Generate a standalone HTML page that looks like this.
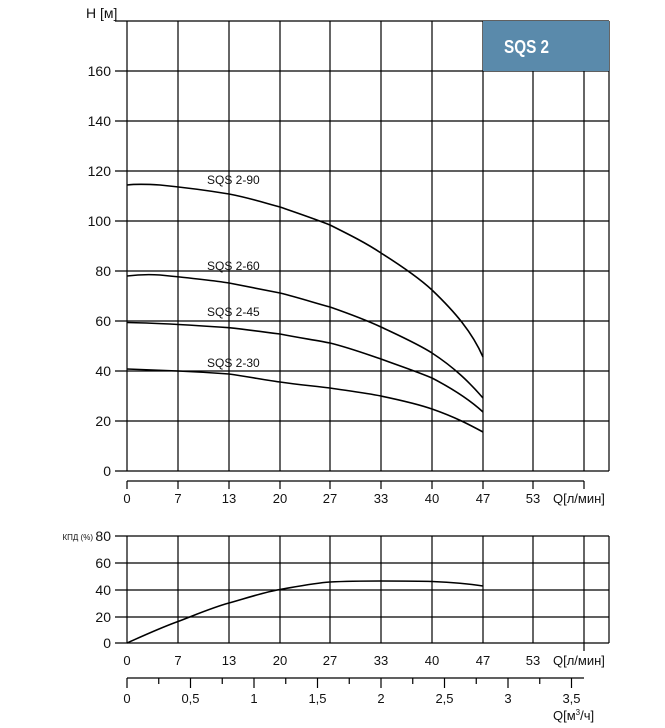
<!DOCTYPE html>
<html><head><meta charset="utf-8"><style>
html,body{margin:0;padding:0;background:#fff;}
svg text{font-family:"Liberation Sans",Arial,sans-serif;fill:#111;}
</style></head><body>
<svg width="665" height="723" viewBox="0 0 665 723" xmlns="http://www.w3.org/2000/svg">
<g stroke="#000" stroke-width="1.2" fill="none">
<path d="M127 21V471M178 21V471M229 21V471M280 21V471M330 21V471M381 21V471M432 21V471M483 21V471M533 21V471M584 21V471M609 21V471"/>
<path d="M115 21H609M115 71H609M115 121H609M115 171H609M115 221H609M115 271H609M115 321H609M115 371H609M115 421H609M115 471H609"/>
<path d="M127 481H584M127 481v8M178 481v8M229 481v8M280 481v8M330 481v8M381 481v8M432 481v8M483 481v8M533 481v8M584 481v8"/>
<path d="M127 536V643M178 536V643M229 536V643M280 536V643M330 536V643M381 536V643M432 536V643M483 536V643M533 536V643M584 536V643M609 536V643"/>
<path d="M115 536H609M115 563H609M115 590H609M115 617H609M115 643H609"/>
<path d="M584 643v8"/>
<path d="M127 678H584M127 678v10M190.5 678v10M254 678v10M317.5 678v10M381 678v10M444.5 678v10M508 678v10M571.5 678v10M158.75 678v6M222.25 678v6M285.75 678v6M349.25 678v6M412.75 678v6M476.25 678v6M539.75 678v6"/>
</g>
<rect x="483" y="21" width="126" height="50" fill="#5a8aab"/>
<text x="0" y="0" font-size="18" font-weight="bold" style="fill:#fff" transform="translate(504,53) scale(0.85,1.05)">SQS 2</text>
<g stroke="#000" stroke-width="1.6" fill="none">
<path d="M127 185 C135 184 145 184 160 185 C180 187 205 190 229 194 C250 198 265 203 280 207 C300 214 315 219 330 225 C350 235 366 243 381 253 C400 265 418 277 432 290 C455 312 472 332 483 357"/>
<path d="M127 276 C135 275 145 274 160 275 C190 278 210 280 229 283 C250 287 265 290 280 293 C300 298 315 303 330 307 C350 314 366 320 381 327 C400 336 418 344 432 353 C455 368 470 383 483 398"/>
<path d="M127 322.5 C160 323 190 325 229 327.7 C250 330 265 332 280 334 C300 338 315 340 330 343 C350 348 366 354 381 359 C400 366 418 372 432 378 C455 390 470 400 483 412"/>
<path d="M127 369 C150 370 165 370.5 178 371 C200 372 215 373 229 374 C250 377 265 380 280 382 C300 385 315 386 330 388 C350 391 366 393 381 396 C400 400 418 404 432 409 C455 417 470 425 483 432"/>
<path d="M127 643 C145 635 160 628 178 621.5 C200 613 214 607 229 603 C250 597 265 592 280 589.5 C300 586 315 583 330 582 C350 581 366 581 381 581 C400 581 418 581 432 581.5 C455 582.5 470 584 483 586"/>
</g>
<g font-size="12">
<text x="207" y="184">SQS 2-90</text>
<text x="207" y="270">SQS 2-60</text>
<text x="207" y="316">SQS 2-45</text>
<text x="207" y="367">SQS 2-30</text>
</g>
<g font-size="14" text-anchor="end">
<text x="111" y="76">160</text><text x="111" y="126">140</text><text x="111" y="176">120</text>
<text x="111" y="226">100</text><text x="111" y="276">80</text><text x="111" y="326">60</text>
<text x="111" y="376">40</text><text x="111" y="426">20</text><text x="111" y="476">0</text>
<text x="111" y="541">80</text><text x="111" y="568">60</text><text x="111" y="595">40</text>
<text x="111" y="622">20</text><text x="111" y="648">0</text>
</g>
<text x="86" y="18" font-size="14">H [м]</text>
<text x="93" y="540" font-size="8" text-anchor="end">КПД (%)</text>
<g font-size="13" text-anchor="middle">
<text x="127" y="503">0</text><text x="178" y="503">7</text><text x="229" y="503">13</text><text x="280" y="503">20</text><text x="330" y="503">27</text><text x="381" y="503">33</text><text x="432" y="503">40</text><text x="483" y="503">47</text><text x="533" y="503">53</text>
<text x="127" y="665">0</text><text x="178" y="665">7</text><text x="229" y="665">13</text><text x="280" y="665">20</text><text x="330" y="665">27</text><text x="381" y="665">33</text><text x="432" y="665">40</text><text x="483" y="665">47</text><text x="533" y="665">53</text>
<text x="127" y="703">0</text><text x="190.5" y="703">0,5</text><text x="254" y="703">1</text><text x="317.5" y="703">1,5</text><text x="381" y="703">2</text><text x="444.5" y="703">2,5</text><text x="508" y="703">3</text><text x="571.5" y="703">3,5</text>
</g>
<g font-size="13">
<text x="553" y="503">Q[л/мин]</text>
<text x="553" y="665">Q[л/мин]</text>
<text x="553" y="720">Q[м<tspan font-size="8" dy="-5">3</tspan><tspan dy="5">/ч]</tspan></text>
</g>
</svg>
</body></html>
